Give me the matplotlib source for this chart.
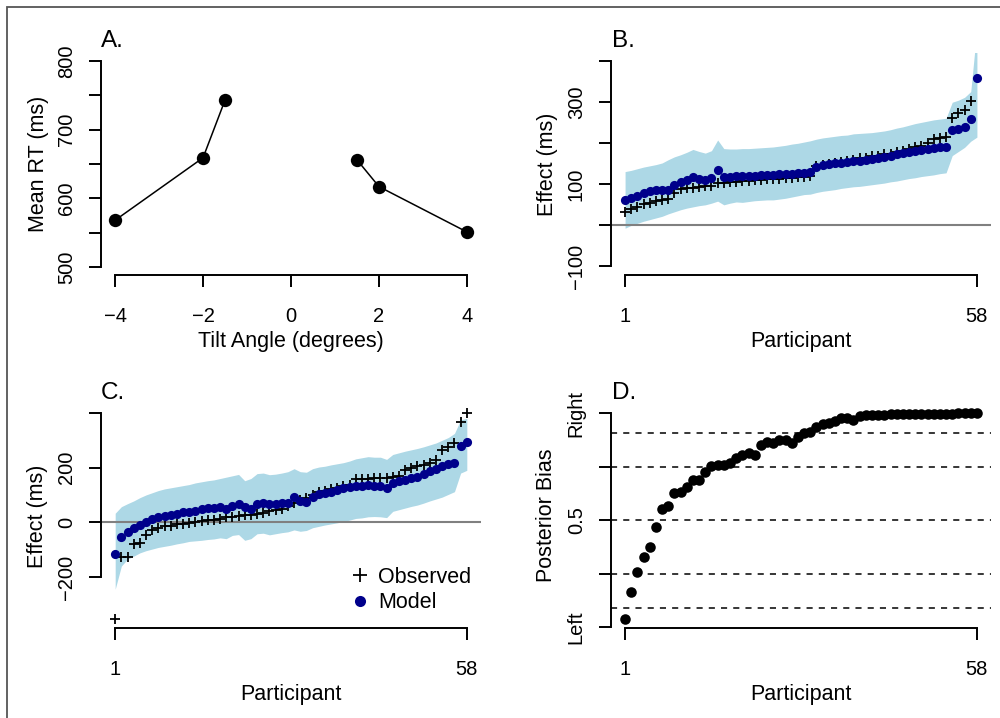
import matplotlib
matplotlib.use('Agg')
import matplotlib.pyplot as plt
from matplotlib.transforms import Affine2D
from matplotlib.lines import Line2D
from matplotlib.patches import Rectangle
import numpy as np

plt.rcParams['font.family'] = ['Liberation Sans', 'DejaVu Sans']

# ---------------- data ----------------
tilt_left = [-4, -2, -1.5]
rt_left = [568, 659, 743]
tilt_right = [1.5, 2, 4]
rt_right = [656, 617, 551]

participants = np.arange(1, 59)

b_observed = [33, 39, 45, 52, 55, 60, 62, 63, 78, 88,
              90, 91, 93, 95, 96, 102, 103, 105, 106, 108,
              109, 110, 111, 112, 113, 114, 115, 116, 117, 118,
              120, 145, 148, 150, 152, 155, 157, 160, 163, 165,
              168, 170, 173, 175, 178, 181, 185, 190, 194, 200,
              210, 214, 216, 262, 275, 280, 302, 450]
b_model = [62, 67, 71, 78, 83, 86, 86, 87, 98, 106,
           110, 119, 112, 110, 115, 135, 119, 119, 120, 120,
           121, 121, 122, 122, 123, 124, 125, 126, 127, 128,
           130, 142, 147, 149, 151, 153, 154, 156, 158, 160,
           161, 164, 167, 170, 174, 176, 179, 181, 183, 186,
           188, 190, 192, 232, 236, 239, 258, 360]
b_lower = [-7, 0, 5, 10, 14, 18, 22, 28, 33, 38,
           42, 45, 48, 50, 54, 59, 50, 54, 57, 56,
           58, 60, 61, 62, 62, 64, 66, 69, 72, 75,
           76, 80, 83, 85, 87, 90, 92, 94, 95, 97,
           99, 101, 103, 106, 108, 111, 114, 116, 119, 121,
           123, 126, 128, 170, 180, 190, 205, 215]
b_upper = [131, 134, 138, 142, 145, 148, 152, 160, 167, 172,
           178, 185, 180, 176, 182, 208, 187, 186, 186, 187,
           187, 188, 189, 190, 191, 193, 195, 198, 200, 203,
           206, 210, 213, 215, 217, 219, 220, 223, 224, 225,
           226, 228, 230, 233, 237, 240, 244, 248, 251, 254,
           257, 259, 261, 300, 305, 312, 326, 480]

c_observed = [-355, -128, -126, -80, -75, -45, -30, -20, -15, -12,
              -8, -5, -2, 1, 4, 7, 10, 13, 18, 20,
              23, 25, 28, 30, 35, 40, 45, 50, 60, 70,
              80, 88, 100, 110, 115, 122, 126, 132, 138, 157,
              160, 160, 161, 162, 163, 165, 168, 191, 200, 206,
              210, 215, 228, 265, 277, 290, 368, 400]
c_model = [-115, -55, -36, -22, -10, 2, 12, 18, 24, 28,
           30, 36, 39, 43, 47, 51, 54, 57, 50, 60,
           68, 55, 50, 65, 72, 68, 66, 70, 72, 91,
           78, 74, 94, 102, 106, 112, 118, 124, 130, 134,
           134, 135, 132, 134, 125, 143, 150, 155, 162, 167,
           178, 186, 196, 206, 212, 216, 279, 295]
c_lower = [-245, -160, -135, -124, -112, -104, -98, -92, -88, -84,
           -79, -75, -70, -68, -66, -63, -61, -57, -60, -48,
           -45, -66, -60, -42, -40, -46, -42, -38, -35, -28,
           -33, -30, -20, -15, -10, -6, -2, 3, 8, 14,
           16, 20, 21, 20, 17, 40, 46, 52, 58, 63,
           70, 78, 85, 92, 102, 112, 180, 190]
c_upper = [33, 57, 68, 78, 90, 100, 108, 116, 122, 126,
           130, 134, 138, 144, 148, 152, 155, 160, 165, 170,
           175, 152, 160, 178, 180, 174, 176, 180, 185, 196,
           185, 183, 196, 202, 205, 210, 214, 218, 224, 232,
           236, 240, 238, 238, 230, 248, 254, 260, 265, 270,
           276, 283, 290, 300, 310, 325, 375, 380]

d_bias = [0.039, 0.166, 0.257, 0.330, 0.377, 0.467, 0.551, 0.567, 0.626, 0.634,
          0.654, 0.688, 0.690, 0.727, 0.754, 0.758, 0.760, 0.766, 0.790, 0.805,
          0.813, 0.805, 0.852, 0.867, 0.863, 0.875, 0.877, 0.860, 0.891, 0.907,
          0.914, 0.937, 0.949, 0.957, 0.965, 0.976, 0.980, 0.969, 0.987, 0.990,
          0.992, 0.993, 0.994, 0.995, 0.996, 0.997, 0.997, 0.998, 0.998, 0.998,
          0.999, 0.999, 0.999, 0.999, 1.0, 1.0, 1.0, 1.0]
d_ref_lines = [0.09, 0.25, 0.5, 0.75, 0.91]

a_xticks = [-4, -2, 0, 2, 4]
a_yticks = [500, 550, 600, 650, 700, 750, 800]
a_ylabels = ['500', '', '600', '', '700', '', '800']
b_yticks = [-100, 0, 100, 200, 300, 400]
b_ylabels = ['\u2212100', '', '100', '', '300', '']
c_yticks = [-200, 0, 200, 400]
c_ylabels = ['\u2212200', '0', '200', '']
d_yticks = [0, 0.25, 0.5, 0.75, 1]
d_ylabels = ['Left', '', '0.5', '', 'Right']
part_ticks = [1, 58]
part_labels = ['1', '58']

# ---------------- layout helpers ----------------
W, H = 1000, 718
fig = plt.figure(figsize=(W / 100, H / 100), dpi=100)
PX = Affine2D().scale(1 / W, -1 / H).translate(0, 1) + fig.transFigure

TICK_FS = 14.5
LAB_FS = 15.5
TITLE_FS = 17.5
AX_LW = 1.4


def add_ax(l, t, r, b):
    return fig.add_axes([l / W, 1 - b / H, (r - l) / W, (b - t) / H])


def style(ax, xb, yb, xticks, xlabels, yticks, ylabels):
    for s in ['top', 'right']:
        ax.spines[s].set_visible(False)
    for s in ['left', 'bottom']:
        ax.spines[s].set_linewidth(AX_LW)
    ax.spines['left'].set_bounds(*yb)
    ax.spines['bottom'].set_bounds(*xb)
    ax.set_xticks(xticks, xlabels)
    ax.set_yticks(yticks, ylabels)
    ax.tick_params(axis='both', direction='out', length=8.6, width=AX_LW,
                   labelsize=TICK_FS)
    ax.tick_params(axis='x', pad=14.5)
    ax.tick_params(axis='y', pad=9.5)
    for t in ax.get_yticklabels():
        t.set_rotation(90)
        t.set_va('center')
        t.set_ha('right')
    ax.patch.set_visible(False)


def labels(ax, title, tx, ty, xlabel, xlx, xly, ylabel, ylx, yly):
    fig.text(tx, ty, title, transform=PX, fontsize=TITLE_FS, ha='left', va='baseline')
    ax.set_xlabel(xlabel, fontsize=LAB_FS)
    ax.xaxis.label.set_va('baseline')
    ax.xaxis.set_label_coords(xlx, xly, transform=PX)
    ax.set_ylabel(ylabel, fontsize=LAB_FS)
    ax.yaxis.label.set_va('center')
    ax.yaxis.set_label_coords(ylx, yly, transform=PX)


# ---------------- Panel A ----------------
axA = add_ax(101, 53, 481, 275)
axA.plot(tilt_left, rt_left, '-o', color='black', ms=9.6, lw=1.1, mew=0)
axA.plot(tilt_right, rt_right, '-o', color='black', ms=9.6, lw=1.1, mew=0)
axA.set_xlim(-4.32, 4.32)
axA.set_ylim(488.3, 811.6)
style(axA, (-4, 4), (500, 800), a_xticks, [str(v).replace('-', '\u2212') for v in a_xticks],
      a_yticks, a_ylabels)
labels(axA, 'A.', 101, 46.7, 'Tilt Angle (degrees)', 291, 347, 'Mean RT (ms)', 38.5, 164)

# ---------------- Panel B ----------------
axB = add_ax(611, 53, 991, 275)
axB.fill_between(participants, b_lower, b_upper, color='lightblue', lw=0)
axB.axhline(0, color='gray', lw=1.5)
axB.plot(participants, b_observed, '+', color='black', ms=7.5, mew=1.3)
axB.plot(participants, b_model, 'o', color='darkblue', ms=6.6, mew=0)
axB.set_xlim(-1.28, 60.28)
axB.set_ylim(-121, 420)
style(axB, (1, 58), (-100, 400), part_ticks, part_labels, b_yticks, b_ylabels)
labels(axB, 'B.', 612, 46.7, 'Participant', 801, 347, 'Effect (ms)', 547, 164)

# ---------------- Panel C ----------------
axC = add_ax(101, 405, 481, 628)
axC.fill_between(participants, c_lower, c_upper, color='lightblue', lw=0)
axC.axhline(0, color='gray', lw=1.5)
axC.plot(participants, c_observed, '+', color='black', ms=7.5, mew=1.3)
axC.plot(participants, c_model, 'o', color='darkblue', ms=6.6, mew=0)
axC.set_xlim(-1.3, 60.3)
axC.set_ylim(-386.8, 429)
style(axC, (1, 58), (-200, 400), part_ticks, part_labels, c_yticks, c_ylabels)
labels(axC, 'C.', 101, 399.3, 'Participant', 291, 700, 'Effect (ms)', 37, 516.5)
handles = [Line2D([], [], ls='none', marker='+', color='black', ms=10, mew=1.3),
           Line2D([], [], ls='none', marker='o', color='darkblue', ms=8, mew=0)]
axC.legend(handles, ['Observed', 'Model'], loc='upper left', bbox_to_anchor=(349, 567),
           bbox_transform=PX, frameon=False, fontsize=LAB_FS, handlelength=1.0,
           handletextpad=0.35, borderpad=0, borderaxespad=0, labelspacing=0.2)

# ---------------- Panel D ----------------
axD = add_ax(611, 405, 991, 628)
for v in d_ref_lines:
    axD.axhline(v, color='black', lw=1.1, ls=(0, (4, 4)))
axD.plot(participants, d_bias, 'o', color='black', ms=7.6, mew=0)
axD.set_xlim(-1.28, 60.28)
axD.set_ylim(-0.003, 1.039)
style(axD, (1, 58), (0, 1), part_ticks, part_labels, d_yticks, d_ylabels)
labels(axD, 'D.', 612, 399.3, 'Participant', 801, 700, 'Posterior Bias', 547, 515.5)

# ---------------- outer frame ----------------
fig.add_artist(Rectangle((7 / W, -0.05), 1.1, 1 - 7 / H + 0.05, transform=fig.transFigure,
                         fill=False, ec='#555555', lw=1.3, clip_on=False))

fig.savefig('out.png', dpi=100, facecolor='white')
